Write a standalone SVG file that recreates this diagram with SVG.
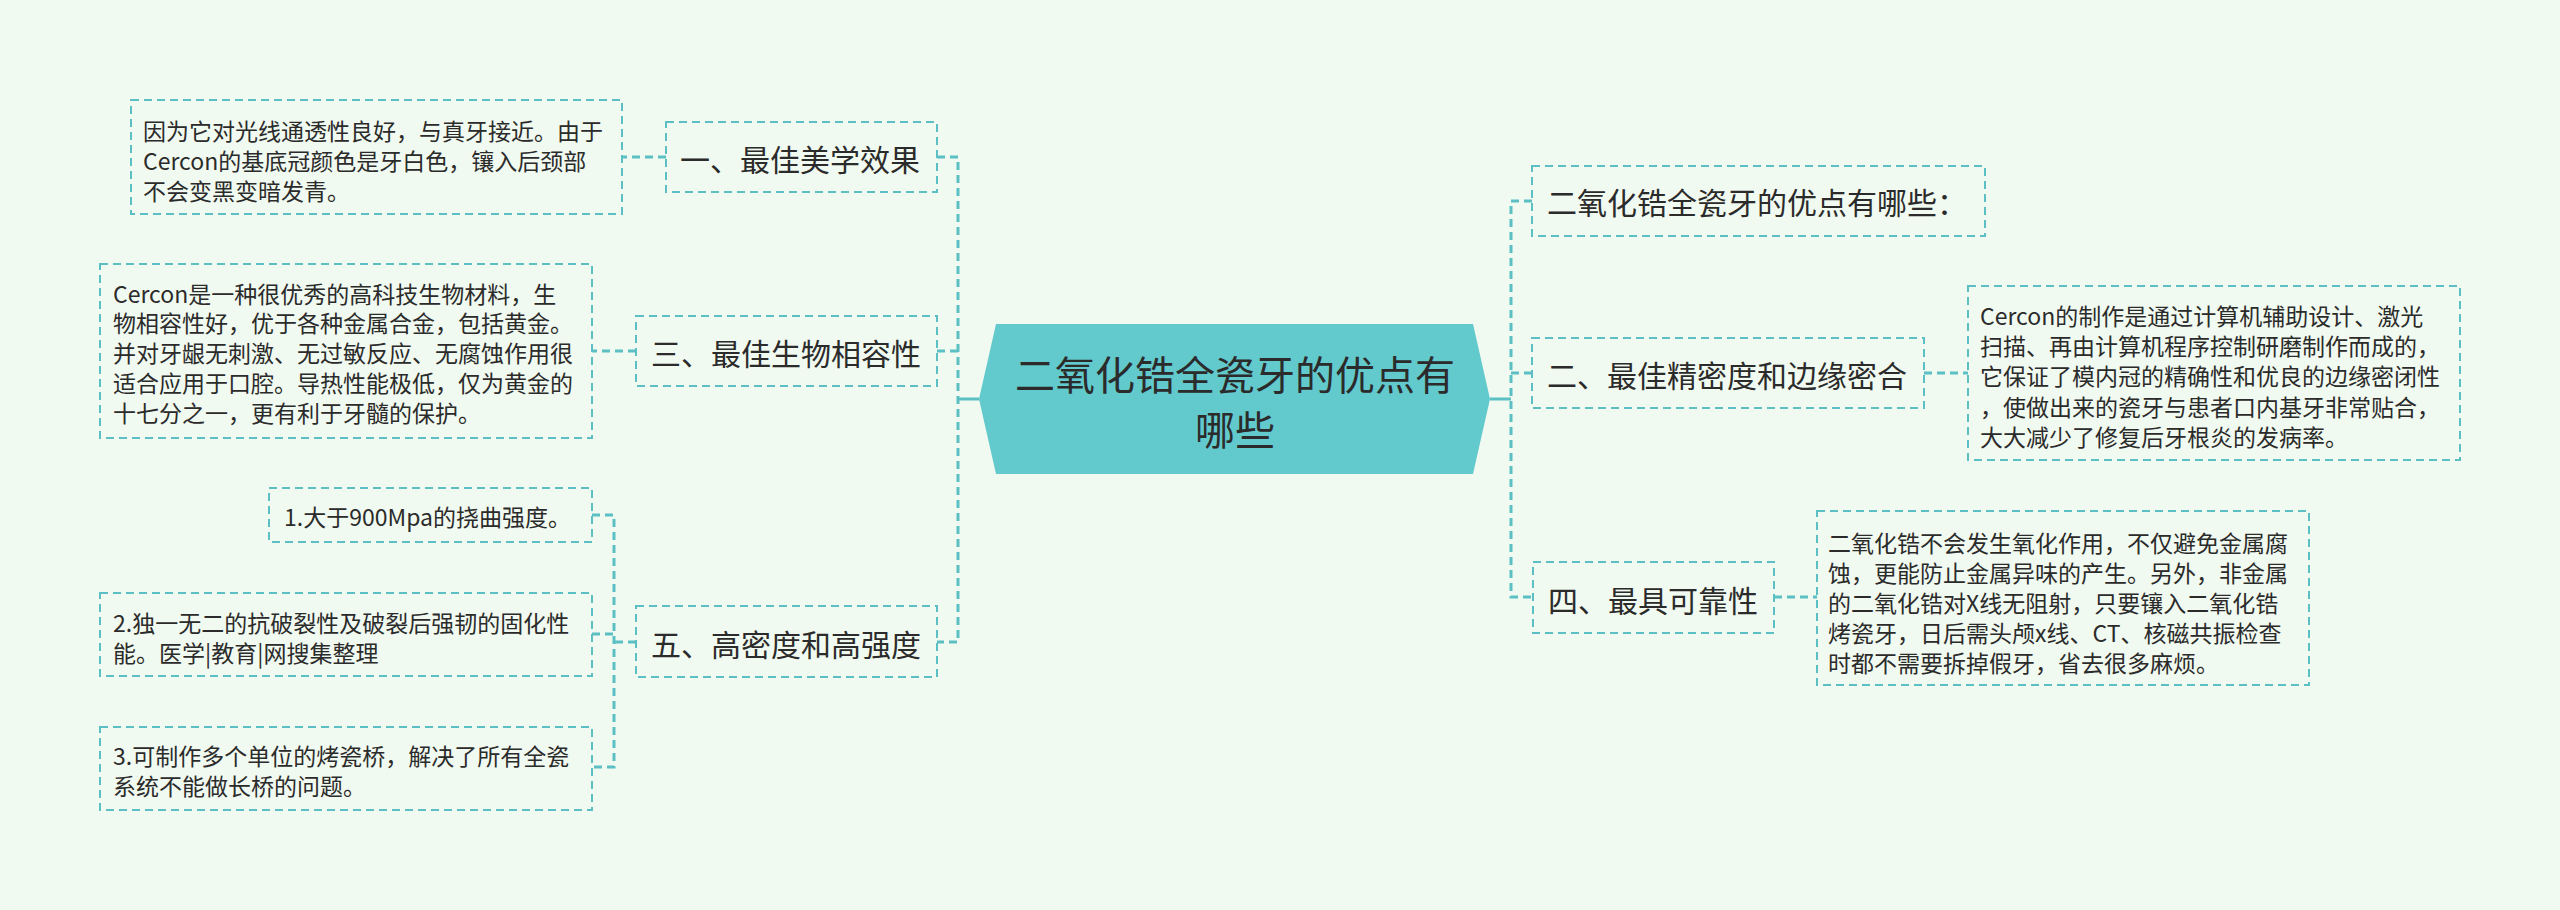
<svg xmlns="http://www.w3.org/2000/svg" width="2560" height="910" viewBox="0 0 2560 910">
<style>
.bg{fill:#f1faf0}
.box{fill:none;stroke:#5bbfc4;stroke-width:2;stroke-dasharray:8 5}
.link{fill:none;stroke:#5bbfc4;stroke-width:3;stroke-dasharray:8 5}
.solid{fill:none;stroke:#5bbfc4;stroke-width:3}
text{font-family:"Noto Sans CJK SC","Noto Sans",sans-serif;fill:#2b2b2b;dominant-baseline:central}
.t{font-size:23px}
.n{font-size:30px}
.c{font-size:40px;text-anchor:middle}
</style>
<rect class="bg" x="0" y="0" width="2560" height="910"/>
<g id="connectors">
<path class="solid" d="M979 399 H958"/>
<path class="link" d="M937 157 H958 V642 H937"/>
<path class="link" d="M937 351 H958"/>
<path class="link" d="M666 157 H622"/>
<path class="link" d="M636 351 H592"/>
<path class="link" d="M636 642 H614"/>
<path class="link" d="M592 515 H614 V767 H592"/>
<path class="link" d="M592 634 H614"/>
<path class="solid" d="M1490 399 H1511"/>
<path class="link" d="M1532 201 H1511 V597 H1533"/>
<path class="link" d="M1511 373 H1532"/>
<path class="link" d="M1924 373 H1968"/>
<path class="link" d="M1774 597 H1817"/>
</g>
<g id="center">
<polygon points="979,399 996,324 1473,324 1490,399 1473,474 996,474" fill="#62c9cd"/>
<text class="c" x="1235" y="373">二氧化锆全瓷牙的优点有</text>
<text class="c" x="1235" y="428">哪些</text>
</g>
<g id="n1">
<rect class="box" x="666" y="122" width="271" height="70"/>
<text class="n" x="680" y="158">一、最佳美学效果</text>
</g>
<g id="n1t">
<rect class="box" x="131" y="100" width="491" height="114"/>
<text class="t" x="143" y="130">因为它对光线通透性良好，与真牙接近。由于</text>
<text class="t" x="143" y="160">Cercon的基底冠颜色是牙白色，镶入后颈部</text>
<text class="t" x="143" y="190">不会变黑变暗发青。</text>
</g>
<g id="n3">
<rect class="box" x="636" y="316" width="301" height="70"/>
<text class="n" x="651" y="352">三、最佳生物相容性</text>
</g>
<g id="n3t">
<rect class="box" x="100" y="264" width="492" height="174"/>
<text class="t" x="113" y="293">Cercon是一种很优秀的高科技生物材料，生</text>
<text class="t" x="113" y="322">物相容性好，优于各种金属合金，包括黄金。</text>
<text class="t" x="113" y="352">并对牙龈无刺激、无过敏反应、无腐蚀作用很</text>
<text class="t" x="113" y="382">适合应用于口腔。导热性能极低，仅为黄金的</text>
<text class="t" x="113" y="412">十七分之一，更有利于牙髓的保护。</text>
</g>
<g id="n5">
<rect class="box" x="636" y="606" width="301" height="71"/>
<text class="n" x="651" y="643">五、高密度和高强度</text>
</g>
<g id="n5a">
<rect class="box" x="269" y="488" width="323" height="54"/>
<text class="t" x="284" y="516">1.大于900Mpa的挠曲强度。</text>
</g>
<g id="n5b">
<rect class="box" x="100" y="593" width="492" height="83"/>
<text class="t" x="113" y="622">2.独一无二的抗破裂性及破裂后强韧的固化性</text>
<text class="t" x="113" y="652">能。医学|教育|网搜集整理</text>
</g>
<g id="n5c">
<rect class="box" x="100" y="727" width="492" height="83"/>
<text class="t" x="113" y="755">3.可制作多个单位的烤瓷桥，解决了所有全瓷</text>
<text class="t" x="113" y="785">系统不能做长桥的问题。</text>
</g>
<g id="r0">
<rect class="box" x="1532" y="166" width="453" height="70"/>
<text class="n" x="1547" y="201">二氧化锆全瓷牙的优点有哪些：</text>
</g>
<g id="n2">
<rect class="box" x="1532" y="338" width="392" height="70"/>
<text class="n" x="1547" y="374">二、最佳精密度和边缘密合</text>
</g>
<g id="n2t">
<rect class="box" x="1968" y="286" width="492" height="174"/>
<text class="t" x="1980" y="315">Cercon的制作是通过计算机辅助设计、激光</text>
<text class="t" x="1980" y="345">扫描、再由计算机程序控制研磨制作而成的，</text>
<text class="t" x="1980" y="375">它保证了模内冠的精确性和优良的边缘密闭性</text>
<text class="t" x="1980" y="406">，使做出来的瓷牙与患者口内基牙非常贴合，</text>
<text class="t" x="1980" y="436">大大减少了修复后牙根炎的发病率。</text>
</g>
<g id="n4">
<rect class="box" x="1533" y="562" width="241" height="71"/>
<text class="n" x="1548" y="599">四、最具可靠性</text>
</g>
<g id="n4t">
<rect class="box" x="1817" y="511" width="492" height="174"/>
<text class="t" x="1828" y="542">二氧化锆不会发生氧化作用，不仅避免金属腐</text>
<text class="t" x="1828" y="572">蚀，更能防止金属异味的产生。另外，非金属</text>
<text class="t" x="1828" y="602">的二氧化锆对X线无阻射，只要镶入二氧化锆</text>
<text class="t" x="1828" y="632">烤瓷牙，日后需头颅x线、CT、核磁共振检查</text>
<text class="t" x="1828" y="662">时都不需要拆掉假牙，省去很多麻烦。</text>
</g>
</svg>
